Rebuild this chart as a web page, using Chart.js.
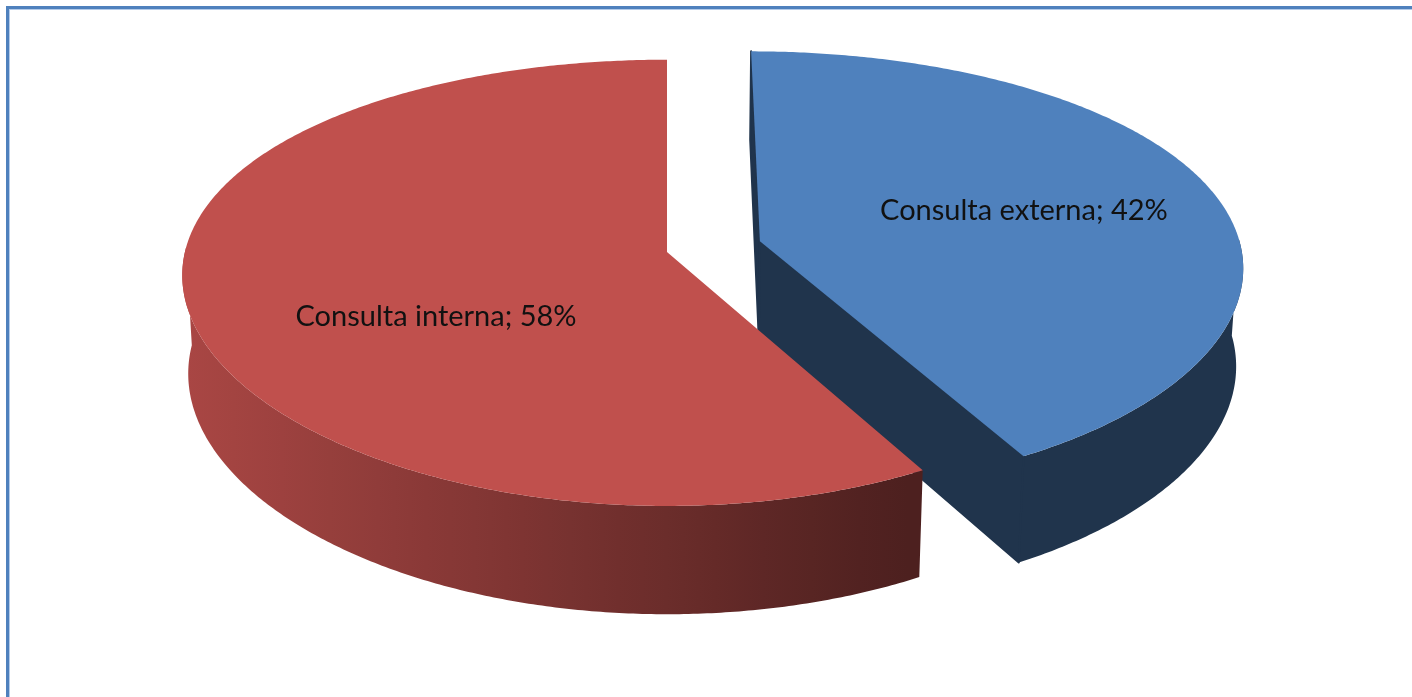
<!DOCTYPE html>
<html>
<head>
<meta charset="utf-8">
<script src="https://cdn.jsdelivr.net/npm/chart.js@4.4.0/dist/chart.umd.min.js"></script>
<style>
  html, body { margin: 0; padding: 0; background: #fff; }
  canvas { display: block; }
</style>
</head>
<body>
<canvas id="pieChart" width="1412" height="697"></canvas>
<script>
// --------------------- data ---------------------
const categories = ["Consulta externa", "Consulta interna"];
const shares = [42, 58];
const topColors = ["#4f81bd", "#c0504d"];

// --------------------- 3D look ---------------------
const explode = [0.2, 0];          // slice pulled out, as a fraction of the radius
const TILT = 27 * Math.PI / 180;   // camera elevation
const CAM_DIST = 6.45;             // perspective distance (vertical), in radii
const CAM_DIST_X = 8.5;            // softer perspective across
const THICKNESS = 0.231;           // pie height in radii
const WIDTH_SCALE = 1.913;         // screen radius / chart.js radius
const LABEL_R = 0.58;
const labelShift = [[0, 0], [44, 32]];

function hexToRgb(hex) {
  const n = parseInt(hex.slice(1), 16);
  return [(n >> 16) & 255, (n >> 8) & 255, n & 255];
}

// side shading: dark on faces turned right, lighter towards the left
function shade(hex, c) {
  const f = c >= 0.485 ? 0.40 : 0.40 + 0.48 * (0.485 - c) / 1.485;
  const [r, g, b] = hexToRgb(hex);
  return `rgb(${Math.round(r * f)},${Math.round(g * f)},${Math.round(b * f)})`;
}

function project(s, u, z, h) {
  const sinT = Math.sin(TILT), cosT = Math.cos(TILT);
  const yp = z * sinT + h * cosT;
  const ky = s.k * CAM_DIST / (CAM_DIST - z * cosT + h * sinT);
  const kx = s.k * CAM_DIST_X / (CAM_DIST_X - z * cosT + h * sinT);
  return [s.cx + u * kx, s.cy + yp * ky];
}

function fillPoly(ctx, pts, style, edge) {
  ctx.beginPath();
  pts.forEach((p, i) => (i ? ctx.lineTo(p[0], p[1]) : ctx.moveTo(p[0], p[1])));
  ctx.closePath();
  ctx.fillStyle = style;
  ctx.fill();
  if (edge) {
    // hide the hairline where the cut face meets the wall
    ctx.strokeStyle = style;
    ctx.lineWidth = 2;
    ctx.lineJoin = "round";
    ctx.stroke();
  }
}

function drawSides(ctx, s) {
  const camZ = CAM_DIST * Math.cos(TILT);
  const color = topColors[s.i];

  // outer wall, front half only
  const grad = ctx.createLinearGradient(project(s, s.ox - 1, s.oz, 0)[0], 0, project(s, s.ox + 1, s.oz, 0)[0], 0);
  for (let c = -1; c <= 1.0001; c += 0.1) grad.addColorStop(Math.min(1, (c + 1) / 2), shade(color, c));

  const steps = Math.ceil((s.end - s.start) / (0.5 * Math.PI / 180));
  let run = [];
  const flush = () => {
    if (run.length > 1) {
      const top = run.map(t => project(s, s.ox + Math.cos(t), s.oz + Math.sin(t), 0));
      const bottom = run.map(t => project(s, s.ox + Math.cos(t), s.oz + Math.sin(t), THICKNESS)).reverse();
      fillPoly(ctx, top.concat(bottom), grad, false);
    }
    run = [];
  };
  for (let j = 0; j <= steps; j++) {
    const t = s.start + (s.end - s.start) * j / steps;
    if (Math.sin(t) > -0.02) run.push(t); else flush();
  }
  flush();

  // the two cut faces
  [[s.start, s.start - Math.PI / 2], [s.end, s.end + Math.PI / 2]].forEach(([phi, psi]) => {
    const facing = -s.ox * Math.cos(psi) + (camZ - s.oz) * Math.sin(psi);
    if (facing <= 1e-6) return;
    const ex = s.ox + Math.cos(phi), ez = s.oz + Math.sin(phi);
    fillPoly(ctx, [
      project(s, s.ox, s.oz, 0), project(s, ex, ez, 0),
      project(s, ex, ez, THICKNESS), project(s, s.ox, s.oz, THICKNESS)
    ], shade(color, 1), true);
  });
}

function drawTop(ctx, s) {
  const steps = Math.ceil((s.end - s.start) / (0.5 * Math.PI / 180));
  const pts = [project(s, s.ox, s.oz, 0)];
  for (let j = 0; j <= steps; j++) {
    const t = s.start + (s.end - s.start) * j / steps;
    pts.push(project(s, s.ox + Math.cos(t), s.oz + Math.sin(t), 0));
  }
  fillPoly(ctx, pts, topColors[s.i], false);
}

const pie3d = {
  id: "pie3d",
  beforeDraw(chart) {
    const ctx = chart.ctx;
    ctx.save();
    ctx.fillStyle = "#fff";
    ctx.fillRect(0, 0, chart.width, chart.height);
    // chart frame
    ctx.strokeStyle = "#4f81bd";
    ctx.lineWidth = 3;
    ctx.strokeRect(7.5, 7.5, chart.width + 20, chart.height + 20);
    ctx.strokeStyle = "#b4cbe9";
    ctx.lineWidth = 1;
    ctx.strokeRect(9.5, 9.5, chart.width + 20, chart.height + 20);
    ctx.restore();
  },
  beforeDatasetsDraw(chart) {
    const ctx = chart.ctx;
    const meta = chart.getDatasetMeta(0);
    const total = shares.reduce((a, b) => a + b, 0);
    const slices = meta.data.map((arc, i) => {
      const p = arc.getProps(["x", "y", "startAngle", "endAngle", "outerRadius"], true);
      const mid = (p.startAngle + p.endAngle) / 2;
      return {
        i, start: p.startAngle, end: p.endAngle, mid,
        ox: explode[i] * Math.cos(mid), oz: explode[i] * Math.sin(mid),
        cx: p.x, cy: p.y, k: p.outerRadius * WIDTH_SCALE
      };
    });

    ctx.save();
    slices.forEach(s => drawSides(ctx, s));
    slices.forEach(s => drawTop(ctx, s));

    // data labels
    ctx.font = "29px Lato";
    ctx.fillStyle = "#111";
    ctx.textAlign = "center";
    ctx.textBaseline = "middle";
    slices.forEach(s => {
      const [x, y] = project(s, s.ox + LABEL_R * Math.cos(s.mid), s.oz + LABEL_R * Math.sin(s.mid), 0);
      const pct = Math.round(shares[s.i] / total * 100);
      ctx.fillText(`${categories[s.i]}; ${pct}%`, x + labelShift[s.i][0], y + labelShift[s.i][1]);
    });
    ctx.restore();
    return false;
  }
};

new Chart(document.getElementById("pieChart"), {
  type: "pie",
  data: {
    labels: categories,
    datasets: [{
      data: shares,
      backgroundColor: topColors,
      borderWidth: 0
    }]
  },
  options: {
    responsive: false,
    animation: false,
    events: [],
    layout: { padding: { left: 0, top: 0, right: 78, bottom: 193 } },
    plugins: {
      legend: { display: false },
      tooltip: { enabled: false }
    }
  },
  plugins: [pie3d]
});
</script>
</body>
</html>
